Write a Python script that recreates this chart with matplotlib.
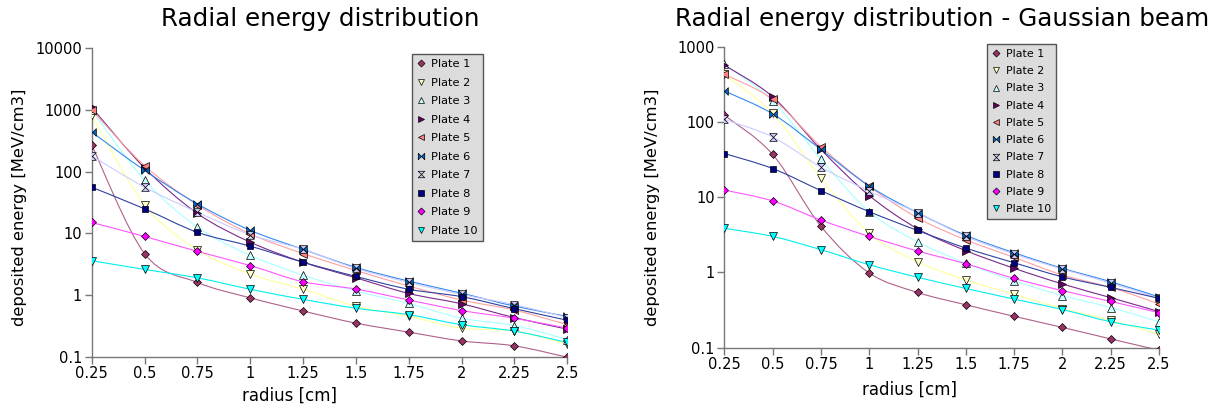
import numpy as np
import matplotlib
matplotlib.use("Agg")
import matplotlib.pyplot as plt
from matplotlib.path import Path
from matplotlib.patches import PathPatch
from matplotlib.lines import Line2D
from matplotlib.ticker import FixedLocator, FixedFormatter

# --- data -------------------------------------------------------------
radius = [0.25, 0.5, 0.75, 1.0, 1.25, 1.5, 1.75, 2.0, 2.25, 2.5]
plates = ["Plate 1", "Plate 2", "Plate 3", "Plate 4", "Plate 5",
          "Plate 6", "Plate 7", "Plate 8", "Plate 9", "Plate 10"]

# flat beam (left chart)
flat_p1 = [270, 4.7, 1.6, 0.90, 0.55, 0.35, 0.25, 0.18, 0.15, 0.098]
flat_p2 = [820, 29, 5.4, 2.2, 1.24, 0.66, 0.45, 0.29, 0.26, 0.16]
flat_p3 = [1000, 73, 12.6, 4.4, 2.1, 1.16, 0.73, 0.42, 0.32, 0.19]
flat_p4 = [1100, 115, 21, 7.2, 3.4, 1.9, 1.06, 0.72, 0.43, 0.28]
flat_p5 = [1000, 125, 29, 9.8, 4.7, 2.5, 1.4, 0.83, 0.57, 0.33]
flat_p6 = [440, 105, 30, 11.2, 5.5, 2.8, 1.68, 1.07, 0.66, 0.45]
flat_p7 = [180, 56, 22, 9.5, 5.5, 2.7, 1.6, 1.02, 0.70, 0.43]
flat_p8 = [56, 25, 10.4, 6.2, 3.4, 2.0, 1.24, 0.94, 0.60, 0.39]
flat_p9 = [15, 8.9, 5.1, 3.0, 1.64, 1.25, 0.83, 0.56, 0.42, 0.29]
flat_p10 = [3.6, 2.6, 1.9, 1.24, 0.85, 0.61, 0.48, 0.33, 0.26, 0.17]

# gaussian beam (right chart)
gauss_p1 = [123, 37, 4.1, 0.98, 0.54, 0.37, 0.26, 0.185, 0.13, 0.092]
gauss_p2 = [430, 130, 18, 3.3, 1.38, 0.79, 0.51, 0.33, 0.23, 0.15]
gauss_p3 = [585, 190, 32, 6.4, 2.55, 1.32, 0.77, 0.49, 0.34, 0.22]
gauss_p4 = [570, 216, 43, 10.5, 3.8, 1.94, 1.13, 0.70, 0.46, 0.30]
gauss_p5 = [430, 200, 47, 14, 5.3, 2.7, 1.58, 0.92, 0.63, 0.38]
gauss_p6 = [258, 128, 43, 14, 6.2, 3.1, 1.82, 1.13, 0.75, 0.47]
gauss_p7 = [108, 63, 25, 12, 6.2, 3.0, 1.75, 1.10, 0.72, 0.45]
gauss_p8 = [38, 24, 12.2, 6.4, 3.6, 2.1, 1.34, 0.87, 0.63, 0.45]
gauss_p9 = [12.4, 8.9, 4.95, 3.0, 1.92, 1.3, 0.83, 0.57, 0.41, 0.29]
gauss_p10 = [3.85, 3.0, 2.0, 1.26, 0.86, 0.61, 0.44, 0.32, 0.22, 0.17]

flat = [flat_p1, flat_p2, flat_p3, flat_p4, flat_p5,
        flat_p6, flat_p7, flat_p8, flat_p9, flat_p10]
gauss = [gauss_p1, gauss_p2, gauss_p3, gauss_p4, gauss_p5,
         gauss_p6, gauss_p7, gauss_p8, gauss_p9, gauss_p10]

# --- styles ------------------------------------------------------------
colors = ["#993366", "#ffffcc", "#ccffff", "#660066", "#ff8080",
          "#0066cc", "#ccccff", "#000080", "#ff00ff", "#00ffff"]
line_colors = ["#b0608a", "#ffff99", "#aaffff", "#7a2a8a", "#ffa0a0",
               "#3388ee", "#ccccff", "#3040a0", "#ff55ff", "#00eeee"]

bowtie = Path([(-1, -1), (-1, 1), (1, -1), (1, 1), (-1, -1)])
hourglass = Path([(-1, 1), (1, 1), (-1, -1), (1, -1), (-1, 1)])
markers = ["D", "v", "^", ">", "<", bowtie, hourglass, "s", "D", "v"]
msizes = [4.2, 5.5, 5.5, 5.5, 5.5, 5.5, 5.5, 5.0, 4.2, 5.5]


def smooth_path(x, y):
    # catmull-rom curve through the points, in log-y space
    lx = np.asarray(x, float)
    ly = np.log10(np.asarray(y, float))
    px = np.concatenate([[lx[0]], lx, [lx[-1]]])
    py = np.concatenate([[ly[0]], ly, [ly[-1]]])
    verts = [(lx[0], ly[0])]
    codes = [Path.MOVETO]
    for i in range(1, len(px) - 2):
        c1 = (px[i] + (px[i + 1] - px[i - 1]) / 6, py[i] + (py[i + 1] - py[i - 1]) / 6)
        c2 = (px[i + 1] - (px[i + 2] - px[i]) / 6, py[i + 1] - (py[i + 2] - py[i]) / 6)
        verts += [c1, c2, (px[i + 1], py[i + 1])]
        codes += [Path.CURVE4] * 3
    verts = np.array(verts)
    verts[:, 1] = 10 ** verts[:, 1]
    return Path(verts, codes)


def draw_chart(ax, series, ymin, ymax, yticks):
    ax.set_yscale("log")
    for i, vals in enumerate(series):
        patch = PathPatch(smooth_path(radius, vals), fill=False,
                          edgecolor=line_colors[i], lw=0.8, zorder=2)
        ax.add_patch(patch)
    for i, vals in enumerate(series):
        ax.plot(radius, vals, ls="none", marker=markers[i], ms=msizes[i],
                mfc=colors[i], mec="black", mew=0.5, zorder=3 + i)
    ax.set_xlim(0.25, 2.5)
    ax.set_ylim(ymin, ymax)
    ax.xaxis.set_major_locator(FixedLocator(radius))
    ax.set_xticklabels(["0.25", "0.5", "0.75", "1", "1.25", "1.5",
                        "1.75", "2", "2.25", "2.5"])
    ax.yaxis.set_major_locator(FixedLocator(yticks))
    ax.yaxis.set_major_formatter(FixedFormatter([f"{t:g}" for t in yticks]))
    ax.yaxis.set_minor_locator(FixedLocator([]))
    for s in ["top", "right"]:
        ax.spines[s].set_visible(False)
    for s in ["left", "bottom"]:
        ax.spines[s].set_color("#777777")
        ax.spines[s].set_linewidth(1.0)
    ax.tick_params(axis="both", direction="out", length=5, width=1.0,
                   color="#777777", labelsize=10.5, pad=2)
    ax.patch.set_alpha(0)


def add_legend(fig, x, y, fs, spacing):
    handles = [Line2D([], [], ls="none", marker=markers[i], ms=msizes[i] * 0.85,
                      mfc=colors[i], mec="black", mew=0.5) for i in range(10)]
    leg = fig.legend(handles, plates, loc="upper left", bbox_to_anchor=(x, y),
                     bbox_transform=fig.transFigure, fontsize=fs,
                     labelspacing=spacing, handlelength=0.8, handletextpad=0.5,
                     borderpad=0.45, borderaxespad=0, fancybox=False,
                     framealpha=1, facecolor="#dcdcdc", edgecolor="#555555")
    leg.get_frame().set_linewidth(1.0)


W, H = 1217, 412
fig = plt.figure(figsize=(W / 100, H / 100), dpi=100)

ax1 = fig.add_axes([91.7 / W, 1 - 356.7 / H, 475.6 / W, 308.4 / H])
draw_chart(ax1, flat, 0.1, 10000, [0.1, 1, 10, 100, 1000, 10000])

ax2 = fig.add_axes([724.3 / W, 1 - 347.5 / H, 434.7 / W, 300.8 / H])
draw_chart(ax2, gauss, 0.1, 1000, [0.1, 1, 10, 100, 1000])

add_legend(fig, 411.5 / W, 1 - 54 / H, 8.2, 0.75)
add_legend(fig, 986.5 / W, 1 - 44 / H, 7.9, 0.66)

# titles and axis labels
fig.text(320 / W, 1 - 19 / H, "Radial energy distribution", fontsize=17.7,
         ha="center", va="center")
fig.text(942 / W, 1 - 19 / H, "Radial energy distribution - Gaussian beam",
         fontsize=17.7, ha="center", va="center")
fig.text(289 / W, 1 - 396 / H, "radius [cm]", fontsize=12, ha="center", va="center")
fig.text(910 / W, 1 - 390 / H, "radius [cm]", fontsize=12, ha="center", va="center")
fig.text(20 / W, 1 - 207 / H, "deposited energy [MeV/cm3]", fontsize=11.8,
         ha="center", va="center", rotation=90)
fig.text(652 / W, 1 - 207 / H, "deposited energy [MeV/cm3]", fontsize=11.8,
         ha="center", va="center", rotation=90)

fig.savefig("out.png", dpi=100)
